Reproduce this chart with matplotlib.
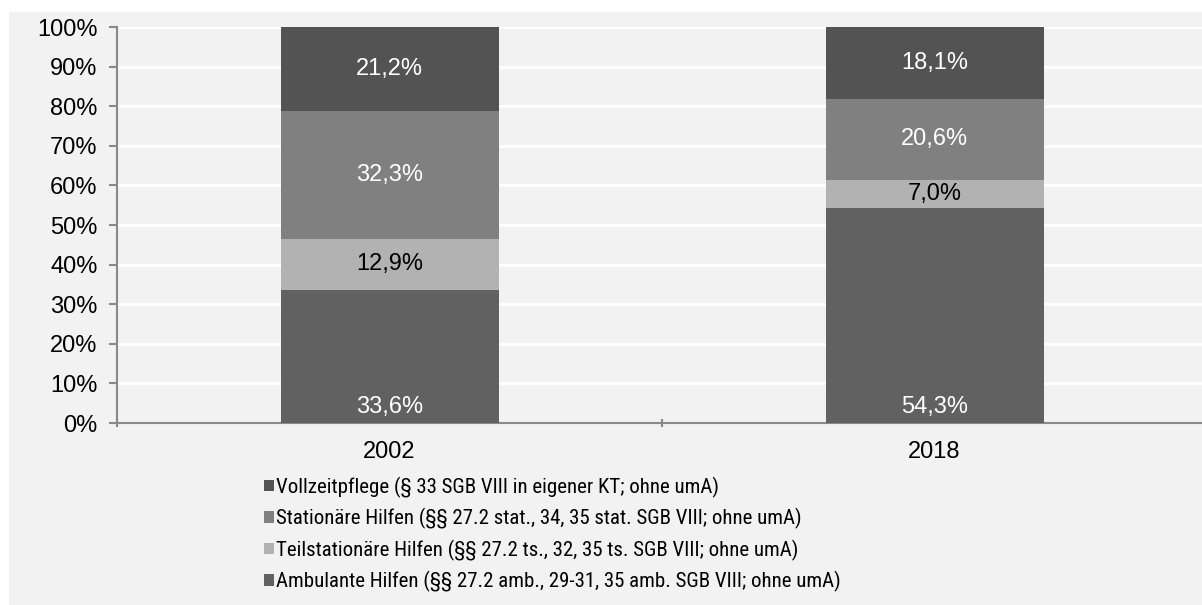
import matplotlib.pyplot as plt
from matplotlib.patches import Rectangle

# Daten
jahre = ['2002', '2018']
ambulant = [33.6, 54.3]
teilstationaer = [12.9, 7.0]
stationaer = [32.3, 20.6]
vollzeit = [21.2, 18.1]

namen = ['Ambulante Hilfen (§§ 27.2 amb., 29-31, 35 amb. SGB VIII; ohne umA)',
         'Teilstationäre Hilfen (§§ 27.2 ts., 32, 35 ts. SGB VIII; ohne umA)',
         'Stationäre Hilfen (§§ 27.2 stat., 34, 35 stat. SGB VIII; ohne umA)',
         'Vollzeitpflege (§ 33 SGB VIII in eigener KT; ohne umA)']
farben = ['#616161', '#b2b2b2', '#808080', '#535353']
textfarben = ['white', 'black', 'white', 'white']

plt.rcParams['font.family'] = ['Liberation Sans', 'DejaVu Sans']

fig = plt.figure(figsize=(12.02, 6.05), dpi=100)
fig.patches.append(Rectangle((9/1202, 0), 1, 1 - 12/605, transform=fig.transFigure,
                             facecolor='#f2f2f2', edgecolor='none', zorder=-10))
ax = fig.add_axes([117/1202, 1 - 423/605, 1090/1202, 396/605])
ax.set_facecolor('#f2f2f2')

x = range(len(jahre))
serien = [ambulant, teilstationaer, stationaer, vollzeit]
unten = [0, 0]
balken = []
for i, werte in enumerate(serien):
    b = ax.bar(x, werte, 0.4, bottom=unten, color=farben[i], zorder=3)
    balken.append(b)
    for j, w in enumerate(werte):
        txt = f'{w:.1f}%'.replace('.', ',')
        if i == 0:
            ax.text(j, unten[j] + 1.3, txt, ha='center', va='bottom',
                    color=textfarben[i], fontsize=17, zorder=4)
        else:
            ax.text(j, unten[j] + w / 2, txt, ha='center', va='center',
                    color=textfarben[i], fontsize=17, zorder=4)
    unten = [unten[k] + werte[k] for k in range(len(werte))]

ax.set_xlim(-0.5, 1.5)
ax.set_ylim(0, 100)
ax.set_yticks(range(0, 101, 10))
ax.set_yticklabels([f'{v}%' for v in range(0, 101, 10)], fontsize=17)
ax.set_xticks([0, 1])
ax.set_xticklabels(jahre, fontsize=17)
ax.set_xticks([-0.5, 0.5, 1.5], minor=True)
ax.tick_params(axis='x', which='major', length=0, pad=13)
ax.tick_params(axis='x', which='minor', length=6, color='#898989', width=1.5, direction='inout')
ax.tick_params(axis='y', length=6, color='#898989', width=1.5, pad=8)
ax.grid(axis='y', color='white', linewidth=2, zorder=0)
for s in ['top', 'right']:
    ax.spines[s].set_visible(False)
for s in ['left', 'bottom']:
    ax.spines[s].set_color('#898989')
    ax.spines[s].set_linewidth(1.5)

leg = fig.legend(balken[::-1], namen[::-1], loc='upper left',
                 bbox_to_anchor=(254/1202, 1 - 466/605), frameon=False,
                 prop={'family': 'Roboto Condensed', 'size': 15}, handlelength=0.45, handleheight=0.45,
                 handletextpad=0.1, labelspacing=0.5, borderpad=0)

fig.savefig('out.png', dpi=100, facecolor='white')
